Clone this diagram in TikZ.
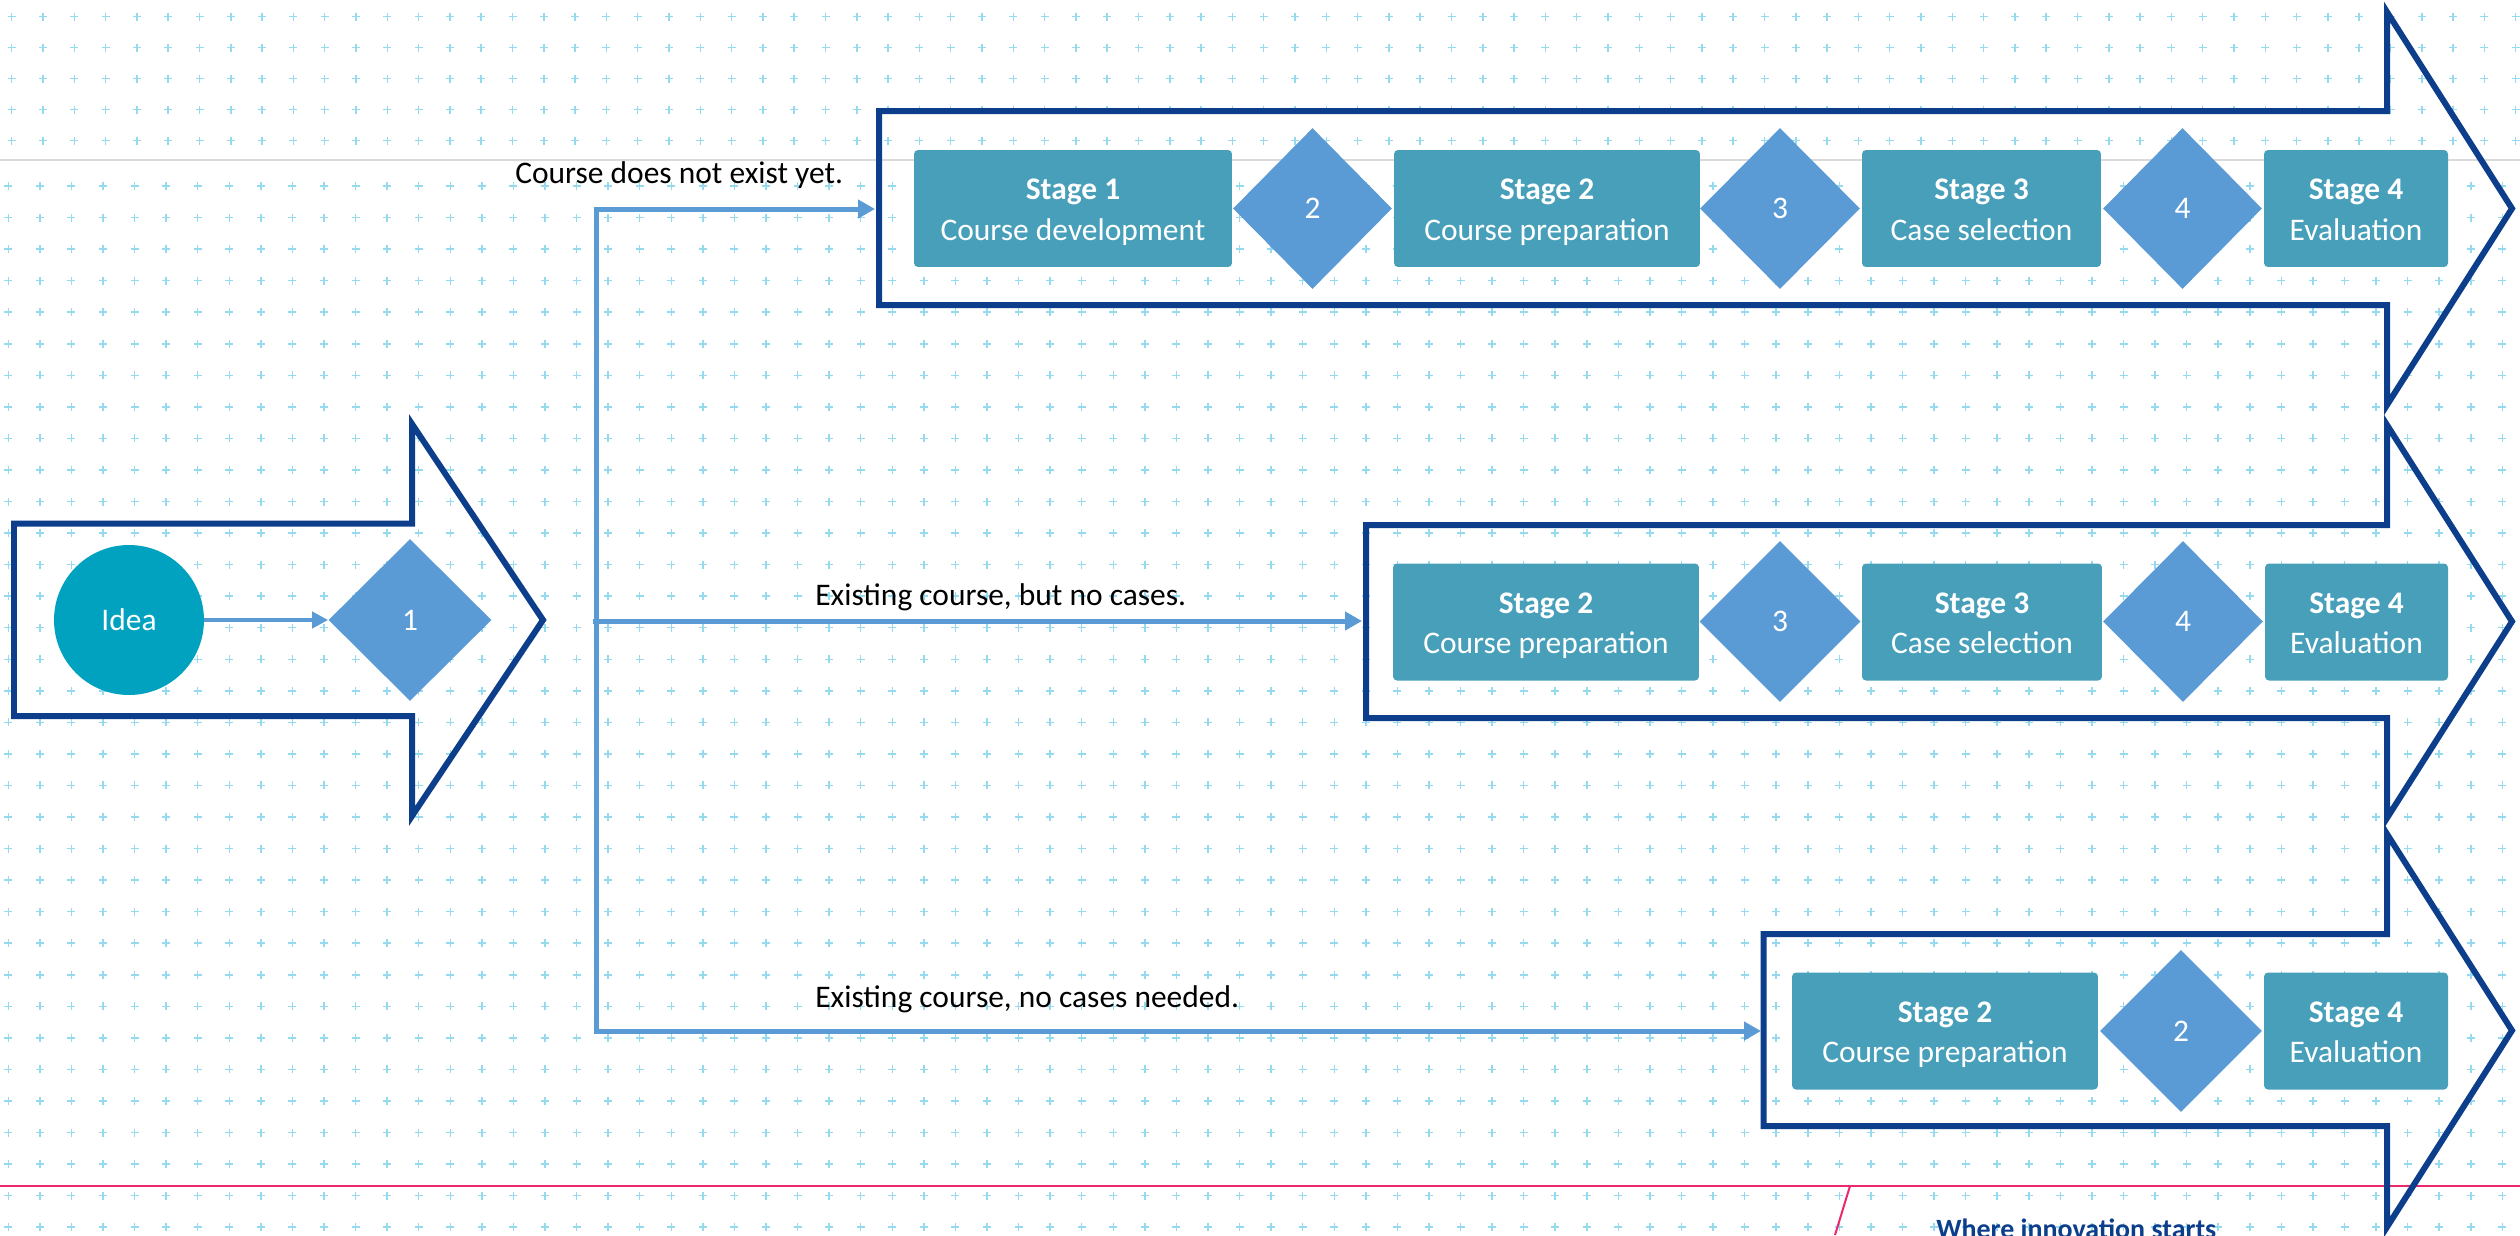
\documentclass[tikz,border=0pt]{standalone}
\usepackage{fontspec}
\setmainfont{Carlito}
\usetikzlibrary{arrows.meta,shapes.geometric}

\definecolor{frameblue}{RGB}{12,62,140}
\definecolor{boxteal}{RGB}{71,159,186}
\definecolor{diablue}{RGB}{91,155,213}
\definecolor{ideateal}{RGB}{0,162,192}
\definecolor{gridcyan}{RGB}{150,218,240}
\definecolor{rulegrey}{RGB}{218,218,218}
\definecolor{rulepink}{RGB}{236,40,110}

\newcommand{\fs}{\fontsize{17.9pt}{23.3pt}\selectfont}
\newcommand{\topstrut}{\rule{0pt}{0.59cm}}
\newcommand{\botstrut}{\rule[-0.13cm]{0pt}{0.13cm}}

\begin{document}
\begin{tikzpicture}[x=0.02cm,y=-0.02cm,
  frame/.style={draw=frameblue,line width=0.12cm,line join=miter},
  stagebox/.style={fill=boxteal,rounded corners=0.08cm,text=white,align=center,font=\fs,inner sep=0pt,minimum height=2.34cm},
  gate/.style={diamond,fill=diablue,text=white,font=\fs,inner sep=0pt,minimum width=3.22cm,minimum height=3.22cm},
  conn/.style={draw=diablue,line width=0.1cm,-{Triangle[length=0.34cm,width=0.36cm]}},
  lbl/.style={font=\fs,text=black,inner sep=0pt,anchor=base west},
  crosses/.style={draw=gridcyan,line width=0.03cm}
]
\useasboundingbox (0,0) rectangle (2520,1235);
\clip (0,0) rectangle (2520,1235);
\fill[white] (0,0) rectangle (2520,1235);

% background grid of crosses
\draw[crosses] \foreach \i in {0,...,80} { \foreach \j in {0,...,4} {
  ({11.7+\i*31.3-4},{16.7+\j*31}) -- ++(8,0)
  ({11.7+\i*31.3},{16.7+\j*31-4}) -- ++(0,8) } };
\draw[crosses] \foreach \i in {0,...,79} { \foreach \j in {0,...,33} {
  ({8.3+\i*31.57-4},{186+\j*31.55}) -- ++(8,0)
  ({8.3+\i*31.57},{186+\j*31.55-4}) -- ++(0,8) } };

% rules
\draw[rulegrey,line width=0.04cm] (0,160) -- (2520,160);
\draw[rulepink,line width=0.04cm] (0,1186) -- (2520,1186);
\draw[rulepink,line width=0.04cm] (1850,1186) -- (1835,1235);
\node[font=\fontsize{15.9pt}{19pt}\selectfont\bfseries,text=frameblue,anchor=base west,inner sep=0pt] (tag) at (1936,1238) {Where innovation starts};

% big arrow outlines
\draw[frame] (14,523.5) -- (412,523.5) -- (412,424) -- (543,620) -- (412,816) -- (412,716) -- (14,716) -- cycle;
\draw[frame] (879,111) -- (2387,111) -- (2387,12) -- (2512,208.5) -- (2387,405) -- (2387,305) -- (879,305) -- cycle;
\draw[frame] (1366,525) -- (2387,525) -- (2387,425) -- (2512,621.5) -- (2387,818) -- (2387,718) -- (1366,718) -- cycle;
\draw[frame] (1763.5,934) -- (2387,934) -- (2387,834) -- (2512,1030.5) -- (2387,1227) -- (2387,1126) -- (1763.5,1126) -- cycle;

% idea
\node[circle,fill=ideateal,text=white,font=\fs,inner sep=0pt,minimum size=3cm] (idea) at (129,620) {Idea};
\node[gate,minimum width=3.26cm,minimum height=3.24cm] (d1) at (410,620) {1};
\draw[draw=diablue,line width=0.086cm,-{Triangle[length=0.32cm,width=0.32cm]}] (idea) -- (d1);

% top row
\node[stagebox,minimum width=6.36cm] (s1a) at (1073,208.5) {\topstrut\textbf{Stage 1}\\Course development\botstrut};
\node[gate,minimum width=3.18cm] (d2a) at (1312.5,208.5) {2};
\node[stagebox,minimum width=6.12cm] (s2a) at (1547,208.5) {\topstrut\textbf{Stage 2}\\Course preparation\botstrut};
\node[gate,minimum width=3.2cm] (d3a) at (1780,208.5) {3};
\node[stagebox,minimum width=4.78cm] (s3a) at (1981.5,208.5) {\topstrut\textbf{Stage 3}\\Case selection\botstrut};
\node[gate,minimum width=3.18cm] (d4a) at (2182.5,208.5) {4};
\node[stagebox,minimum width=3.68cm] (s4a) at (2356,208.5) {\topstrut\textbf{Stage 4}\\Evaluation\botstrut};

% middle row
\node[stagebox,minimum width=6.12cm] (s2b) at (1546,622) {\topstrut\textbf{Stage 2}\\Course preparation\botstrut};
\node[gate] (d3b) at (1780,621.5) {3};
\node[stagebox,minimum width=4.8cm] (s3b) at (1982,622) {\topstrut\textbf{Stage 3}\\Case selection\botstrut};
\node[gate,minimum width=3.2cm] (d4b) at (2183,621.5) {4};
\node[stagebox,minimum width=3.66cm] (s4b) at (2356.5,622) {\topstrut\textbf{Stage 4}\\Evaluation\botstrut};

% bottom row
\node[stagebox,minimum width=6.12cm] (s2c) at (1945,1031) {\topstrut\textbf{Stage 2}\\Course preparation\botstrut};
\node[gate,minimum width=3.24cm,minimum height=3.24cm] (d2c) at (2181,1031) {2};
\node[stagebox,minimum width=3.68cm] (s4c) at (2356,1031) {\topstrut\textbf{Stage 4}\\Evaluation\botstrut};

% connectors
\coordinate (split) at (596,621);
\coordinate (in1) at (875,209);
\coordinate (in2) at (1362,621);
\coordinate (in3) at (1761,1031);
\draw[conn] (split) |- (in1);
\draw[conn] ([xshift=-0.06cm]split) -- (in2);
\draw[conn] (split) |- (in3);

% labels
\node[lbl] (t1) at (515,183) {Course does not exist yet.};
\node[lbl] (t2) at (815,605) {Existing course, but no cases.};
\node[lbl] (t3) at (815,1007) {Existing course, no cases needed.};
\end{tikzpicture}
\end{document}
